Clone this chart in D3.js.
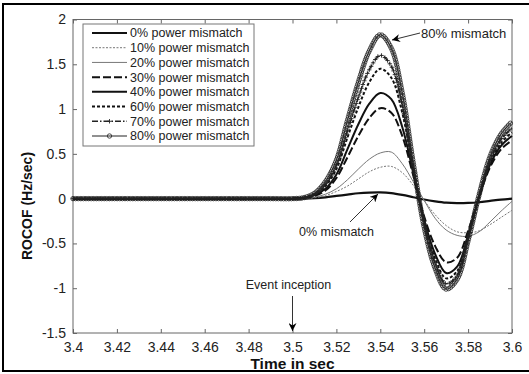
<!DOCTYPE html>
<html>
<head>
<meta charset="utf-8">
<script src="https://cdn.jsdelivr.net/npm/d3@7"></script>
<style>
  body { margin: 0; background: white; }
  text { font-family: "Liberation Sans", Arial, sans-serif; }
</style>
</head>
<body>
<div id="chart"></div>
<script>
// time samples (sec)
const times = [3.40, 3.45, 3.49, 3.500, 3.505, 3.510, 3.515, 3.520, 3.525, 3.530, 3.535, 3.540, 3.545,
  3.550, 3.555, 3.560, 3.565, 3.570, 3.575, 3.580, 3.585, 3.590, 3.595, 3.600]

// ROCOF per mismatch level (Hz/sec)
const pm0 = [0, 0, 0, 0, 0.001, 0.005, 0.015, 0.03, 0.045, 0.06, 0.068, 0.07, 0.062,
  0.042, 0.016, -0.01, -0.03, -0.045, -0.05, -0.048, -0.04, -0.025, -0.01, 0.0]
const pm10 = [0, 0, 0, 0, 0.003, 0.01, 0.035, 0.08, 0.14, 0.22, 0.30, 0.35, 0.36,
  0.29, 0.15, -0.02, -0.18, -0.30, -0.37, -0.38, -0.36, -0.29, -0.21, -0.13]
const pm20 = [0, 0, 0, 0, 0.004, 0.015, 0.05, 0.11, 0.21, 0.33, 0.44, 0.51, 0.52,
  0.39, 0.19, -0.02, -0.22, -0.35, -0.41, -0.42, -0.37, -0.26, -0.14, -0.03]
const pm30 = [0, 0, 0, 0, 0.01, 0.03, 0.09, 0.23, 0.46, 0.70, 0.90, 1.01, 0.96,
  0.70, 0.26, -0.20, -0.53, -0.71, -0.66, -0.36, 0.02, 0.35, 0.55, 0.65]
const pm40 = [0, 0, 0, 0, 0.01, 0.04, 0.11, 0.27, 0.55, 0.83, 1.06, 1.18, 1.11,
  0.80, 0.29, -0.24, -0.62, -0.83, -0.76, -0.41, 0.02, 0.38, 0.59, 0.70]
const pm60 = [0, 0, 0, 0, 0.01, 0.05, 0.14, 0.33, 0.68, 1.02, 1.30, 1.45, 1.35,
  0.96, 0.34, -0.26, -0.67, -0.89, -0.81, -0.43, 0.02, 0.40, 0.62, 0.74]
const pm70 = [0, 0, 0, 0, 0.01, 0.05, 0.16, 0.37, 0.75, 1.13, 1.44, 1.60, 1.48,
  1.04, 0.36, -0.28, -0.72, -0.95, -0.86, -0.45, 0.03, 0.43, 0.66, 0.79]
const pm80 = [0, 0, 0, 0, 0.01, 0.06, 0.19, 0.43, 0.87, 1.30, 1.65, 1.83, 1.68,
  1.18, 0.40, -0.32, -0.78, -1.01, -0.90, -0.47, 0.04, 0.47, 0.72, 0.86]

const seriesNames = ['0% power mismatch', '10% power mismatch', '20% power mismatch', '30% power mismatch',
  '40% power mismatch', '60% power mismatch', '70% power mismatch', '80% power mismatch']
const xTicks = [3.4, 3.42, 3.44, 3.46, 3.48, 3.5, 3.52, 3.54, 3.56, 3.58, 3.6]
const yTicks = [-1.5, -1, -0.5, 0, 0.5, 1, 1.5, 2]

const width = 529, height = 374
const padLeft = 73, padRight = 512, padTop = 19.5, padBottom = 333

// line styles, in legend order
const styles = [
  {color: '#111', w: 2.2, dash: null, marker: null},
  {color: '#777', w: 1, dash: '2,1.5', marker: null},
  {color: '#777', w: 1, dash: null, marker: null},
  {color: '#111', w: 2, dash: '8,3', marker: null},
  {color: '#111', w: 2, dash: null, marker: null},
  {color: '#111', w: 2, dash: '3,2', marker: null},
  {color: '#222', w: 1.4, dash: '6,2,1.5,2', marker: 'plus'},
  {color: '#222', w: 1, dash: null, marker: 'circle'}
]
const allSeries = [pm0, pm10, pm20, pm30, pm40, pm60, pm70, pm80]

var svg = d3.select('#chart').append('svg')
  .attr('width', width)
  .attr('height', height)

// outer frame
svg.append('rect')
  .attr('x', 3).attr('y', 4)
  .attr('width', 540).attr('height', 367)
  .style('fill', 'none')
  .style('stroke', 'black')
  .style('stroke-width', 2)

var xscale = d3.scaleLinear().domain([3.4, 3.6]).range([padLeft, padRight])
var yscale = d3.scaleLinear().domain([-1.5, 2]).range([padBottom, padTop])

var axisColor = '#666'
// axes with inward ticks on all four sides
var gx = svg.append('g').attr('transform', 'translate(0,' + padBottom + ')')
  .call(d3.axisBottom(xscale).tickValues(xTicks).tickSizeInner(-4).tickSizeOuter(0).tickPadding(7)
    .tickFormat(d => String(+d.toFixed(2))))
var gxt = svg.append('g').attr('transform', 'translate(0,' + padTop + ')')
  .call(d3.axisTop(xscale).tickValues(xTicks).tickSizeInner(-4).tickSizeOuter(0).tickFormat(''))
var gy = svg.append('g').attr('transform', 'translate(' + padLeft + ',0)')
  .call(d3.axisLeft(yscale).tickValues(yTicks).tickSizeInner(-4).tickSizeOuter(0).tickPadding(7)
    .tickFormat(d => String(d)))
var gyr = svg.append('g').attr('transform', 'translate(' + padRight + ',0)')
  .call(d3.axisRight(yscale).tickValues(yTicks).tickSizeInner(-4).tickSizeOuter(0).tickFormat(''))
;[gx, gxt, gy, gyr].forEach(g => {
  g.select('.domain').remove()
  g.selectAll('line').style('stroke', axisColor)
  g.selectAll('text').style('font-size', '14px').style('fill', '#222')
    .style('font-family', '"Liberation Sans", Arial, sans-serif')
})
gx.selectAll('text').attr('dy', '0.85em')
svg.append('rect')
  .attr('x', padLeft).attr('y', padTop)
  .attr('width', padRight - padLeft).attr('height', padBottom - padTop)
  .style('fill', 'none').style('stroke', axisColor).style('stroke-width', 1)

// curves
var line = d3.line()
  .x((d, i) => xscale(times[i]))
  .y(d => yscale(d))
  .curve(d3.curveCatmullRom.alpha(0.5))

var plot = svg.append('g')
function markerAt(g, kind, x, y, color) {
  if (kind === 'circle') {
    g.append('circle').attr('cx', x).attr('cy', y).attr('r', 2.2)
      .style('fill', 'none').style('stroke', color).style('stroke-width', 0.8)
  } else {
    g.append('path').attr('d', 'M' + (x - 2.2) + ',' + y + 'H' + (x + 2.2) + 'M' + x + ',' + (y - 2.2) + 'V' + (y + 2.2))
      .style('stroke', color).style('stroke-width', 0.9)
  }
}
allSeries.forEach((s, k) => {
  var st = styles[k]
  var p = plot.append('path')
    .attr('d', line(s))
    .style('fill', 'none')
    .style('stroke', st.color)
    .style('stroke-width', st.w)
    .style('stroke-dasharray', st.dash)
  if (st.marker) {
    // markers follow the plotted path
    var node = p.node()
    var len = node.getTotalLength()
    var step = st.marker === 'circle' ? 2.6 : 4
    var mg = plot.append('g')
    for (var l = 0; l <= len; l += step) {
      var pt = node.getPointAtLength(l)
      markerAt(mg, st.marker, pt.x, pt.y, st.color)
    }
  }
})

// legend
var lg = svg.append('g')
lg.append('rect')
  .attr('x', 83).attr('y', 24).attr('width', 171).attr('height', 122)
  .style('fill', 'white').style('stroke', '#777').style('stroke-width', 1)
var rowY = d3.scaleLinear().domain([0, 7]).range([33, 136])
seriesNames.forEach((name, k) => {
  var st = styles[k]
  var y = rowY(k)
  lg.append('line')
    .attr('x1', 92).attr('x2', 127).attr('y1', y).attr('y2', y)
    .style('stroke', st.color).style('stroke-width', st.w)
    .style('stroke-dasharray', st.dash)
  if (st.marker) markerAt(lg, st.marker, 109.5, y, st.color)
  lg.append('text')
    .attr('x', 130).attr('y', y).attr('dy', '0.35em')
    .style('font-size', '12.5px').style('fill', '#222')
    .text(name)
})

// annotations
svg.append('defs').append('marker')
  .attr('id', 'arr').attr('viewBox', '0 0 10 10')
  .attr('refX', 10).attr('refY', 5)
  .attr('markerWidth', 8).attr('markerHeight', 8)
  .attr('markerUnits', 'userSpaceOnUse')
  .attr('orient', 'auto')
  .append('path').attr('d', 'M0,0L10,5L0,10L3,5Z').style('fill', 'black')

function arrow(x1, y1, x2, y2) {
  svg.append('line')
    .attr('x1', x1).attr('y1', y1).attr('x2', x2).attr('y2', y2)
    .style('stroke', '#333').style('stroke-width', 1)
    .attr('marker-end', 'url(#arr)')
}
svg.append('text').attr('x', 421).attr('y', 33).attr('dy', '0.35em')
  .style('font-size', '13px').style('fill', '#222').text('80% mismatch')
arrow(420, 33, 392, 40)

svg.append('text').attr('x', 299).attr('y', 232).attr('dy', '0.35em')
  .style('font-size', '12.5px').style('fill', '#222').text('0% mismatch')
arrow(350, 222, 378, 194)

svg.append('text').attr('x', xscale(3.5) - 4).attr('y', 285).attr('dy', '0.35em')
  .attr('text-anchor', 'middle')
  .style('font-size', '12.5px').style('fill', '#222').text('Event inception')
arrow(xscale(3.5), 296, xscale(3.5), 331)

// axis titles
svg.append('text').attr('x', (padLeft + padRight) / 2).attr('y', 364).attr('dy', '0.35em')
  .attr('text-anchor', 'middle')
  .style('font-size', '15.5px').style('font-weight', 'bold').style('fill', '#111')
  .text('Time in sec')
svg.append('text')
  .attr('transform', 'translate(27,206) rotate(-90)')
  .attr('dy', '0.35em')
  .attr('text-anchor', 'middle')
  .style('font-size', '14px').style('font-weight', 'bold').style('fill', '#111')
  .text('ROCOF (Hz/sec)')
</script>
</body>
</html>
